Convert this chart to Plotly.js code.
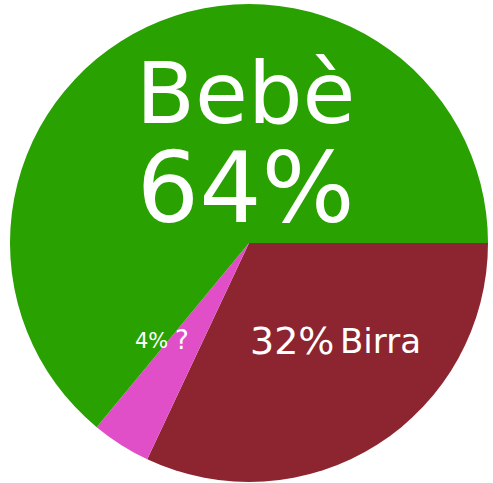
<!DOCTYPE html>
<html><head><meta charset="utf-8">
<script src="https://cdn.plot.ly/plotly-3.0.1.min.js"></script>
<style>html,body{margin:0;padding:0;background:#fff}</style>
</head><body>
<div id="chart" style="width:493px;height:483px"></div>
<script>
const labels = ['Birra', '?', 'Bebè'];
const values = [32, 4, 64];
const colors = ['#8c2530', '#e04fc8', '#29a100'];

const total = values.reduce((a, b) => a + b, 0);
const pct = values.map(v => Math.round(100 * v / total) + '%');

// margins so the pie sits at centre (249,243) with radius 239
const M = {l: 10, r: 5, t: 4, b: 1};
const W = 493, H = 483;
const pw = W - M.l - M.r, ph = H - M.t - M.b;
const px = x => (x - M.l) / pw;
const py = y => (H - M.b - y) / ph;

function ann(text, x, y, size) {
  return {text: text, x: px(x), y: py(y), xref: 'paper', yref: 'paper',
    xanchor: 'center', yanchor: 'middle', showarrow: false,
    font: {family: 'DejaVu Sans', size: size, color: '#ffffff'}};
}

const annotations = [
  ann('<span style="font-size:86px">' + labels[2] + '</span><br>' +
      '<span style="font-size:98px">' + pct[2] + '</span>', 245, 144, 76),
  ann(pct[0], 292, 341, 38),
  ann(labels[0], 380, 341, 34),
  ann(pct[1], 151, 341, 21),
  ann(labels[1], 182, 340, 26)
];

Plotly.newPlot('chart', [{
  type: 'pie', labels: labels, values: values, sort: false,
  direction: 'clockwise', rotation: 90,
  marker: {colors: colors, line: {width: 0}},
  textinfo: 'none', hoverinfo: 'none', showlegend: false
}], {
  width: W, height: H, margin: M,
  paper_bgcolor: '#ffffff', plot_bgcolor: '#ffffff',
  annotations: annotations
}, {displayModeBar: false, staticPlot: true});
</script>
</body></html>
